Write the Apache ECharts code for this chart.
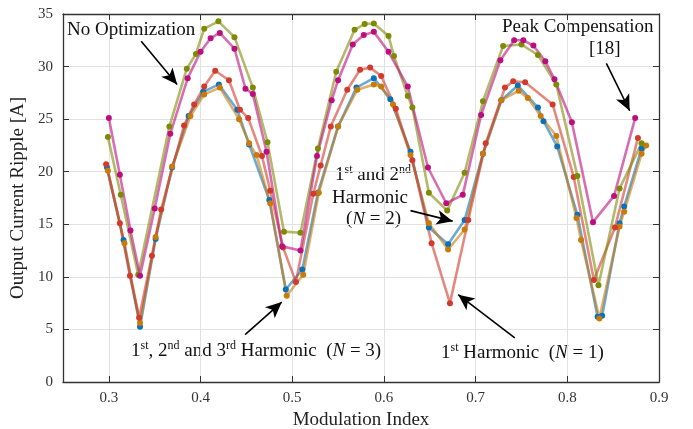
<!DOCTYPE html>
<html>
<head>
    <meta charset="utf-8">
    <script src="https://cdn.jsdelivr.net/npm/echarts@6/dist/echarts.min.js"></script>
</head>
<body style="margin:0">
    <div id="main" style="width:693px;height:429px"></div>

    <script type="text/javascript">
        // measured ripple, [modulation index, ripple A]
        var noOpt = [[0.299,23.3],[0.313,17.8],[0.332,10.2],[0.366,24.3],[0.385,29.8],[0.395,31.2],[0.404,33.6],[0.4195,34.3],[0.437,32.8],[0.457,28.0],[0.473,22.8],[0.491,14.3],[0.509,14.2],[0.528,22.2],[0.548,29.5],[0.568,33.5],[0.579,34.05],[0.589,34.1],[0.605,32.9],[0.611,31.0],[0.626,27.2],[0.631,26.1],[0.649,18.0],[0.669,16.3],[0.688,19.9],[0.708,26.7],[0.73,31.95],[0.75,32.1],[0.768,31.1],[0.788,28.3],[0.811,19.6],[0.834,9.2],[0.857,18.4],[0.881,22.7]];
        var peakComp = [[0.3,25.1],[0.312,19.7],[0.3236,14.4],[0.334,10.1],[0.35,16.5],[0.367,23.6],[0.386,28.9],[0.4,31.4],[0.411,32.7],[0.421,33.2],[0.437,31.7],[0.449,27.9],[0.457,27.4],[0.472,21.9],[0.489,12.9],[0.509,12.5],[0.527,21.5],[0.543,26.8],[0.55,28.7],[0.566,32.1],[0.578,33.0],[0.589,33.3],[0.605,31.4],[0.626,28.1],[0.648,20.4],[0.668,17.0],[0.686,17.8],[0.706,25.4],[0.727,30.6],[0.742,32.5],[0.752,32.5],[0.763,32.0],[0.776,30.5],[0.786,28.8],[0.805,24.7],[0.828,15.2],[0.851,17.7],[0.874,25.1]];
        var harm1 = [[0.297,20.7],[0.312,15.1],[0.323,10.1],[0.333,6.1],[0.347,12.0],[0.357,16.4],[0.382,24.4],[0.393,26.4],[0.404,28.1],[0.416,29.6],[0.431,28.7],[0.443,25.9],[0.452,25.1],[0.467,21.5],[0.476,18.2],[0.49,12.8],[0.504,9.5],[0.523,17.9],[0.531,20.6],[0.542,24.3],[0.56,27.8],[0.574,29.7],[0.585,29.9],[0.597,29.1],[0.613,26.0],[0.631,21.1],[0.652,13.2],[0.672,7.5],[0.692,15.4],[0.711,22.7],[0.732,28.0],[0.741,28.6],[0.754,28.5],[0.784,26.4],[0.807,19.5],[0.829,9.7],[0.852,14.7],[0.877,23.2]];
        var harm12 = [[0.298,20.4],[0.316,13.5],[0.334,5.25],[0.351,13.6],[0.369,20.4],[0.387,25.3],[0.403,27.6],[0.42,28.3],[0.44,25.9],[0.453,22.6],[0.475,17.3],[0.493,8.8],[0.511,10.7],[0.528,18.0],[0.55,24.3],[0.57,28.0],[0.589,28.9],[0.607,26.9],[0.629,21.9],[0.649,14.7],[0.67,13.1],[0.688,15.4],[0.708,21.7],[0.728,26.8],[0.746,28.2],[0.768,26.1],[0.774,24.8],[0.789,22.4],[0.811,15.9],[0.833,6.2],[0.838,6.3],[0.857,15.1],[0.862,16.7],[0.881,22.2]];
        var harm123 = [[0.299,20.1],[0.317,13.2],[0.334,5.6],[0.351,13.8],[0.369,20.5],[0.389,25.3],[0.404,27.35],[0.421,28.0],[0.442,25.0],[0.453,22.7],[0.461,21.6],[0.476,17.0],[0.494,8.2],[0.512,10.2],[0.529,18.0],[0.55,24.3],[0.571,27.8],[0.589,28.3],[0.597,28.1],[0.61,26.4],[0.629,21.6],[0.649,15.1],[0.67,12.6],[0.688,14.5],[0.708,21.7],[0.728,26.8],[0.747,27.7],[0.757,27.0],[0.771,25.3],[0.788,23.4],[0.81,15.6],[0.815,13.5],[0.835,6.05],[0.857,14.8],[0.862,16.2],[0.881,21.7],[0.886,22.5]];

        var xTicks = [0.3, 0.4, 0.5, 0.6, 0.7, 0.8, 0.9];

        // arrows: [from, to] in data coords
        var arrows = [
            [[0.3353, 32.4], [0.3745, 28.3]],
            [[0.8426, 30.3], [0.868, 25.8]],
            [[0.629, 16.3], [0.675, 15.3]],
            [[0.4486, 4.5], [0.4886, 7.6]],
            [[0.7427, 4.2], [0.681, 8.3]]
        ];

        var serif = 'Liberation Serif';
        var myChart = echarts.init(document.getElementById('main'));

        function mkSeries(name, data, color) {
            return {
                name: name,
                type: 'line',
                data: data,
                symbol: 'circle',
                symbolSize: 6,
                itemStyle: { color: color },
                lineStyle: { color: color, width: 2.6, opacity: 0.6 },
                animation: false
            };
        }

        var sup = { fontSize: 12, fontFamily: serif, color: '#111', padding: [0, 0, 10, 0] };
        var ital = { fontSize: 19, fontFamily: serif, color: '#111', fontStyle: 'italic' };
        var f19 = '19px "Liberation Serif"';

        var option = {
            backgroundColor: '#fff',
            grid: { left: 63, right: 34, top: 14, bottom: 47, outerBoundsMode: 'none', containLabel: false },
            xAxis: [{
                type: 'value', min: 0.25, max: 0.9,
                name: 'Modulation Index', nameLocation: 'middle', nameGap: 28,
                nameTextStyle: { fontFamily: serif, fontSize: 19, color: '#222' },
                axisLine: { onZero: false, lineStyle: { color: '#333', width: 1.3 } },
                axisTick: { inside: true, length: 6, customValues: xTicks, lineStyle: { color: '#333' } },
                axisLabel: { customValues: xTicks, fontFamily: serif, fontSize: 15, color: '#333', margin: 9,
                    formatter: function (v) { return v.toFixed(1); } },
                splitLine: { show: true, lineStyle: { color: '#e2e2e2', width: 1 } }
            }, {
                type: 'value', min: 0.25, max: 0.9, position: 'top',
                axisLine: { show: true, onZero: false, lineStyle: { color: '#333', width: 1.3 } },
                axisTick: { inside: true, length: 6, customValues: xTicks, lineStyle: { color: '#333' } },
                axisLabel: { show: false },
                splitLine: { show: false }
            }],
            yAxis: [{
                type: 'value', min: 0, max: 35, interval: 5,
                name: 'Output Current Ripple [A]', nameLocation: 'middle', nameGap: 34,
                nameTextStyle: { fontFamily: serif, fontSize: 19, color: '#222' },
                axisLine: { show: true, onZero: false, lineStyle: { color: '#333', width: 1.3 } },
                axisTick: { show: true, inside: true, length: 6, lineStyle: { color: '#333' } },
                axisLabel: { fontFamily: serif, fontSize: 15, color: '#333', margin: 10 },
                splitLine: { show: true, lineStyle: { color: '#e2e2e2', width: 1 } }
            }, {
                type: 'value', min: 0, max: 35, interval: 5, position: 'right',
                axisLine: { show: true, onZero: false, lineStyle: { color: '#333', width: 1.3 } },
                axisTick: { show: true, inside: true, length: 6, lineStyle: { color: '#333' } },
                axisLabel: { show: false },
                splitLine: { show: false }
            }],
            series: [
                mkSeries('1st and 2nd Harmonic (N = 2)', harm12, '#0A72BA'),
                mkSeries('1st, 2nd and 3rd Harmonic (N = 3)', harm123, '#C97A08'),
                mkSeries('1st Harmonic (N = 1)', harm1, '#D23A2C'),
                mkSeries('No Optimization', noOpt, '#7E8A05'),
                mkSeries('Peak Compensation [18]', peakComp, '#BC0E7E'),
                {
                    type: 'line', data: [], silent: true, animation: false,
                    markLine: {
                        silent: true, animation: false,
                        symbol: ['none', 'arrow'], symbolSize: [11, 16],
                        label: { show: false },
                        lineStyle: { color: '#000', width: 1.6, type: 'solid' },
                        data: arrows.map(function (a) {
                            return [{ coord: a[0] }, { coord: a[1] }];
                        })
                    }
                }
            ],
            graphic: [
                { type: 'text', left: 67, top: 21, style: { text: 'No Optimization', font: f19, fill: '#111' } },
                { type: 'text', left: 502, top: 18, style: { text: 'Peak Compensation', font: f19, fill: '#111' } },
                { type: 'text', left: 589, top: 40, style: { text: '[18]', font: f19, fill: '#111' } },
                { type: 'text', left: 335, top: 164, style: { text: '1{s|st} and 2{s|nd}', rich: { s: sup }, font: f19, fill: '#111' } },
                { type: 'text', left: 332, top: 189, style: { text: 'Harmonic', font: f19, fill: '#111' } },
                { type: 'text', left: 346, top: 210, style: { text: '({i|N} = 2)', rich: { i: ital }, font: f19, fill: '#111' } },
                { type: 'text', left: 131, top: 340, style: { text: '1{s|st}, 2{s|nd} and 3{s|rd} Harmonic  ({i|N} = 3)', rich: { s: sup, i: ital }, font: f19, fill: '#111' } },
                { type: 'text', left: 441, top: 342, style: { text: '1{s|st} Harmonic  ({i|N} = 1)', rich: { s: sup, i: ital }, font: f19, fill: '#111' } }
            ]
        };

        myChart.setOption(option);
    </script>
</body>
</html>
